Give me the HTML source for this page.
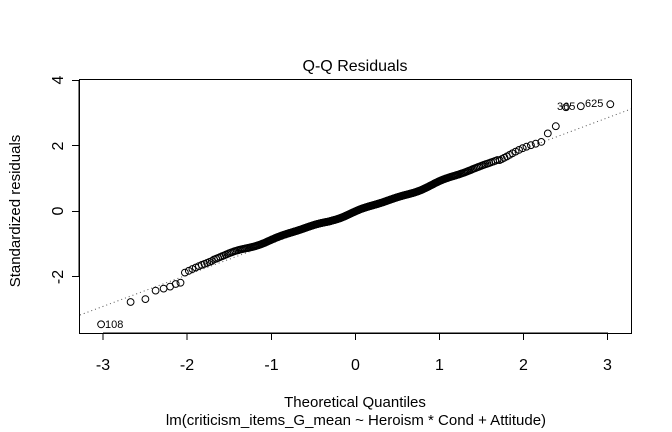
<!DOCTYPE html>
<html><head><meta charset="utf-8"><style>
html,body{margin:0;padding:0;background:#fff;}
svg{display:block;font-family:"Liberation Sans",Arial,sans-serif;}
</style></head><body>
<svg id="s" width="672" height="432" viewBox="0 0 672 432" xmlns="http://www.w3.org/2000/svg">
<rect width="672" height="432" fill="#fff"/>
<text x="355" y="71" font-size="16" text-anchor="middle">Q-Q Residuals</text>
<rect x="79.5" y="79.5" width="552" height="254" fill="none" stroke="#000" stroke-width="1"/>
<g stroke="#000" stroke-width="1">
<line x1="103" y1="333" x2="608" y2="333"/>
<line x1="103" y1="333" x2="103" y2="340"/>
<line x1="187" y1="333" x2="187" y2="340"/>
<line x1="271.5" y1="333" x2="271.5" y2="340"/>
<line x1="355.5" y1="333" x2="355.5" y2="340"/>
<line x1="439.5" y1="333" x2="439.5" y2="340"/>
<line x1="523.5" y1="333" x2="523.5" y2="340"/>
<line x1="607.5" y1="333" x2="607.5" y2="340"/>
<line x1="79" y1="80" x2="79" y2="277"/>
<line x1="72" y1="80.5" x2="79" y2="80.5"/>
<line x1="72" y1="145.5" x2="79" y2="145.5"/>
<line x1="72" y1="211.5" x2="79" y2="211.5"/>
<line x1="72" y1="276.5" x2="79" y2="276.5"/>
</g>
<g font-size="16" text-anchor="middle">
<text x="103" y="370">-3</text><text x="187" y="370">-2</text><text x="271.5" y="370">-1</text>
<text x="355.5" y="370">0</text><text x="439.5" y="370">1</text><text x="523.5" y="370">2</text><text x="607.5" y="370">3</text>
<text transform="translate(63,80) rotate(-90)">4</text>
<text transform="translate(63,146) rotate(-90)">2</text>
<text transform="translate(63,211) rotate(-90)">0</text>
<text transform="translate(63,277) rotate(-90)">-2</text>
</g>
<g font-size="15" text-anchor="middle">
<text transform="translate(20,211) rotate(-90)">Standardized residuals</text>
<text x="355" y="407">Theoretical Quantiles</text>
<text x="356" y="425">lm(criticism_items_G_mean ~ Heroism * Cond + Attitude)</text>
</g>
<line x1="80" y1="315" x2="631" y2="109" stroke="#555" stroke-width="1" stroke-dasharray="1,3"/>
<g id="pts" fill="none" stroke="#000" stroke-width="1"></g>
<g font-size="11">
<text x="105" y="328">108</text>
<text x="557" y="110">365</text>
<text x="585" y="107">625</text>
</g>
</svg>
<script>
function qnorm(p){var a=[-39.6968302866538,220.946098424521,-275.928510446969,138.357751867269,-30.6647980661472,2.50662827745924],b=[-54.4760987982241,161.585836858041,-155.698979859887,66.8013118877197,-13.2806815528857],c=[-0.00778489400243029,-0.322396458041136,-2.40075827716184,-2.54973253934373,4.37466414146497,2.93816398269878],d=[0.00778469570904146,0.32246712907004,2.445134137143,3.75440866190742],pl=0.02425,q,r;
if(p<pl){q=Math.sqrt(-2*Math.log(p));return(((((c[0]*q+c[1])*q+c[2])*q+c[3])*q+c[4])*q+c[5])/((((d[0]*q+d[1])*q+d[2])*q+d[3])*q+1);}
if(p>1-pl){q=Math.sqrt(-2*Math.log(1-p));return-(((((c[0]*q+c[1])*q+c[2])*q+c[3])*q+c[4])*q+c[5])/((((d[0]*q+d[1])*q+d[2])*q+d[3])*q+1);}
q=p-0.5;r=q*q;return(((((a[0]*r+a[1])*r+a[2])*r+a[3])*r+a[4])*r+a[5])*q/(((((b[0]*r+b[1])*r+b[2])*r+b[3])*r+b[4])*r+1);}
var n=400,g=document.getElementById('pts'),h='';
var tail={0:-3.45,1:-2.77,2:-2.68,3:-2.42,4:-2.36,5:-2.3,6:-2.22,7:-2.18,399:3.27,398:3.21,397:3.18,396:2.6,395:2.38};
function dev(q){if(q<-1.7)return 0.12+(q+1.7)*0.05;if(q<-0.3)return 0.12*Math.sin((q+0.3)/-1.4*Math.PI/2)+0.02;if(q<1.7)return -0.05*Math.sin(q/1.7*Math.PI);return -0.03+(q-1.7)*0.12;}
for(var i=0;i<n;i++){var q=qnorm((i+0.5)/n),y;
 if(tail[i]!==undefined)y=tail[i];else y=0.955*q-0.01+dev(q)+0.025*Math.sin(q*7)+0.015*Math.sin(q*13+1);
 var px=355.7+84.2*q,py=211.3-32.75*y;
 h+='<circle cx="'+px.toFixed(1)+'" cy="'+py.toFixed(1)+'" r="3.4"/>';}
g.innerHTML=h;
</script>
</body></html>
